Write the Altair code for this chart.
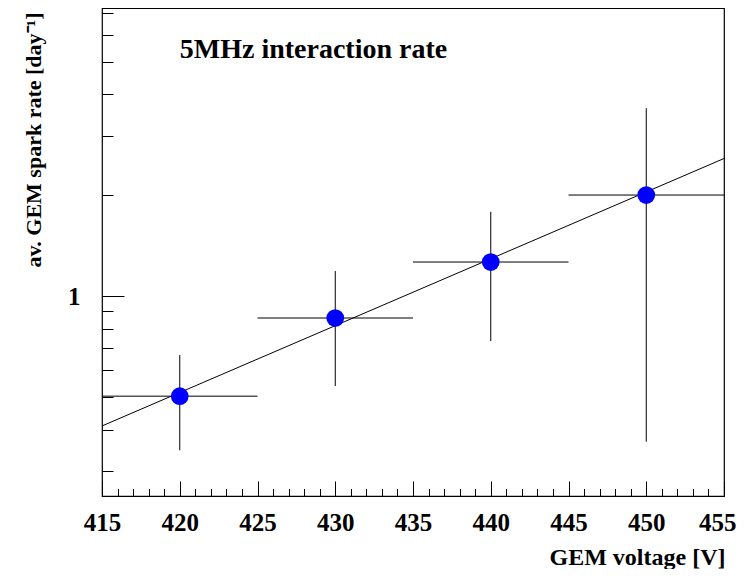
import altair as alt
import pandas as pd

# data
voltage = [420, 430, 440, 450]
voltage_lo = [415, 425, 435, 445]
voltage_hi = [425, 435, 445, 455]
rate = [0.503, 0.860, 1.263, 2.00]
rate_lo = [0.347, 0.539, 0.734, 0.368]
rate_hi = [0.667, 1.187, 1.783, 3.63]

fit_voltage = [415, 455]
fit_rate = [0.41, 2.57]

x_major = [415, 420, 425, 430, 435, 440, 445, 450, 455]
x_minor = [416, 417, 418, 419, 421, 422, 423, 424, 426, 427, 428, 429,
           431, 432, 433, 434, 436, 437, 438, 439, 441, 442, 443, 444,
           446, 447, 448, 449, 451, 452, 453, 454]
y_major = [1]
y_minor = [0.3, 0.4, 0.5, 0.6, 0.7, 0.8, 0.9, 2, 3, 4, 5, 6, 7]

label_text = ["5MHz interaction rate"]
label_x = [420]
label_y = [5.12]

W, H = 622, 488
FONT = "Liberation Serif"

df = pd.DataFrame({"v": voltage, "vlo": voltage_lo, "vhi": voltage_hi,
                   "r": rate, "rlo": rate_lo, "rhi": rate_hi})
fit = pd.DataFrame({"v": fit_voltage, "r": fit_rate})
lab = pd.DataFrame({"t": label_text, "v": label_x, "r": label_y})

xs = alt.Scale(domain=[415, 455], nice=False, zero=False)
ys = alt.Scale(type="log", domain=[0.2535, 7.22], nice=False)

label_style = dict(labelFont=FONT, labelFontWeight="bold", labelFontSize=25,
                   labelColor="black", format="d", labelFlush=False, labelBound=False)

axis_x_labels = alt.Axis(values=x_major[:-1], ticks=False, tickSize=0, domain=False, grid=False,
                         labelPadding=14, **label_style,
                         title="GEM voltage [V]", titleFont=FONT,
                         titleFontWeight="bold", titleFontSize=24, titleColor="black",
                         titleX=W + 1, titleY=68, titleAlign="right",
                         titleBaseline="alphabetic", orient="bottom")
axis_x_last = alt.Axis(values=x_major[-1:], ticks=False, tickSize=0, domain=False, grid=False,
                       labelPadding=14, labelAlign="right", labelOffset=12, **label_style,
                       title=None, orient="bottom")
axis_y_labels = alt.Axis(values=y_major, ticks=False, tickSize=0, domain=False, grid=False,
                         labelPadding=22, **label_style,
                         title="av. GEM spark rate [day\u207b\u00b9]",
                         titleFont=FONT, titleFontWeight="bold", titleFontSize=22,
                         titleColor="black", titleAngle=270, titleX=-62, titleY=4,
                         titleAlign="right", titleBaseline="alphabetic", orient="left")

def tick_axis_x(vals, size):
    return alt.Axis(values=vals, orient="top", offset=-H, tickSize=size, labels=False,
                    domain=False, grid=False, title=None, tickColor="black", tickWidth=1)

def tick_axis_y(vals, size):
    return alt.Axis(values=vals, orient="right", offset=-W, tickSize=size, labels=False,
                    domain=False, grid=False, title=None, tickColor="black", tickWidth=1)

xerr = alt.Chart(df).mark_rule(color="black", strokeWidth=1).encode(
    x=alt.X("vlo:Q", scale=xs, axis=axis_x_labels),
    x2="vhi:Q",
    y=alt.Y("r:Q", scale=ys, axis=axis_y_labels),
)

yerr = alt.Chart(df).mark_rule(color="black", strokeWidth=1).encode(
    x=alt.X("v:Q", scale=xs, axis=tick_axis_x(x_major, 15)),
    y=alt.Y("rlo:Q", scale=ys, axis=tick_axis_y(y_major, 22)),
    y2="rhi:Q",
)

points = alt.Chart(df).mark_circle(size=314, color="#0000ff", opacity=1).encode(
    x=alt.X("v:Q", scale=xs, axis=tick_axis_x(x_minor, 7.5)),
    y=alt.Y("r:Q", scale=ys, axis=tick_axis_y(y_minor, 11)),
)

fitline = alt.Chart(fit).mark_line(color="black", strokeWidth=1).encode(
    x=alt.X("v:Q", scale=xs, axis=axis_x_last),
    y=alt.Y("r:Q", scale=ys, axis=None),
)

text = alt.Chart(lab).mark_text(align="left", baseline="alphabetic", font=FONT,
                                fontWeight="bold", fontSize=28, color="black").encode(
    x=alt.X("v:Q", scale=xs, axis=None),
    y=alt.Y("r:Q", scale=ys, axis=None),
    text="t:N",
)

chart = alt.layer(xerr, yerr, fitline, points, text).resolve_axis(
    x="independent", y="independent"
).properties(
    width=W, height=H,
    autosize=alt.AutoSizeParams(type="none"),
    padding={"left": 94, "top": 0, "right": 12, "bottom": 73},
).configure_view(stroke="black", strokeWidth=1.2)

chart.save("out.html", embed_options={"renderer": "svg", "actions": False})
